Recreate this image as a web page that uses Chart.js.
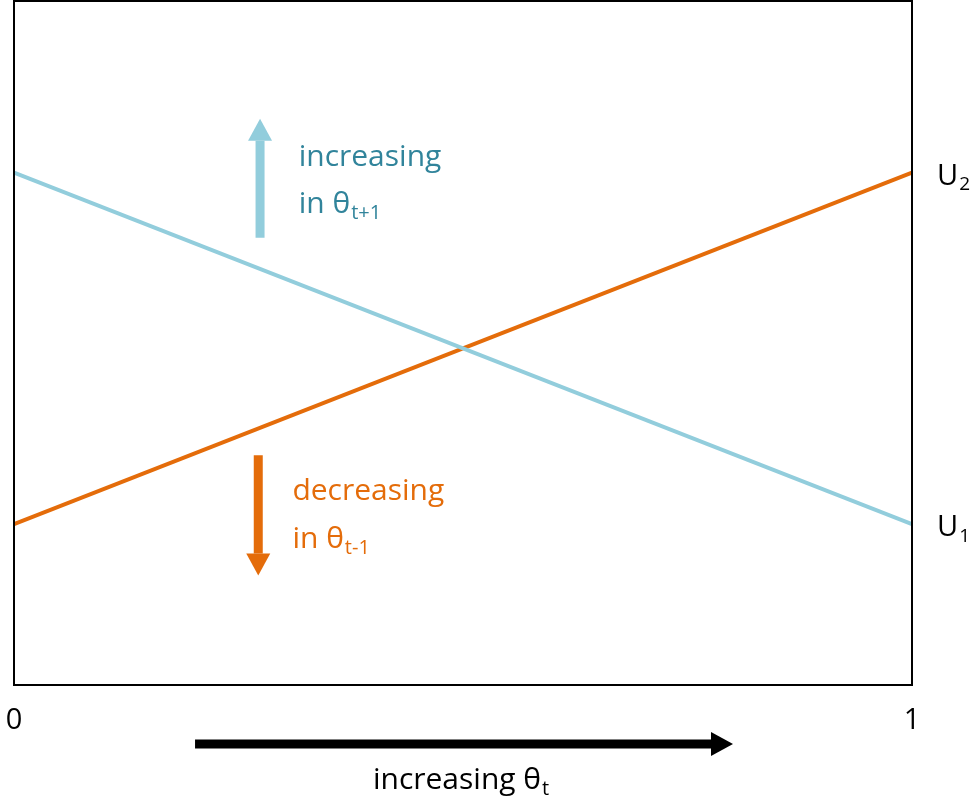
<!DOCTYPE html>
<html>
<head>
<meta charset="utf-8">
<script src="https://cdn.jsdelivr.net/npm/chart.js@4/dist/chart.umd.min.js"></script>
<style>
  html, body { margin: 0; padding: 0; background: #fff; }
  #wrap { width: 975px; height: 803px; position: relative; }
</style>
</head>
<body>
<div id="wrap"><canvas id="c"></canvas></div>
<script>
// ——— DATA ———
const xTicks = [0, 1];
const tickLabels = ['0', '1'];
const blueLine = [{ x: 0, y: 0.749 }, { x: 1, y: 0.235 }];   // U1 (falls)
const orangeLine = [{ x: 0, y: 0.235 }, { x: 1, y: 0.749 }]; // U2 (rises)
const lineLabels = [{ text: 'U', sub: '2', y: 0.749 }, { text: 'U', sub: '1', y: 0.235 }];

const BLUE = '#92CDDC';
const BLUE_TXT = '#31849B';
const ORANGE = '#E46C0A';
const FONT = '"Open Sans", "Noto Sans", sans-serif';

// text with subscript, left-aligned at x, baseline y
function subText(ctx, x, y, main, sub, size, color) {
    ctx.fillStyle = color;
    ctx.textBaseline = 'alphabetic';
    ctx.textAlign = 'left';
    ctx.font = `${size}px ${FONT}`;
    ctx.fillText(main, x, y);
    const w = ctx.measureText(main).width;
    ctx.font = `${Math.round(size * 0.65)}px ${FONT}`;
    ctx.fillText(sub, x + w + 1, y + size * 0.2);
}

function arrow(ctx, x1, y1, x2, y2, width, head, headLen, color) {
    const ang = Math.atan2(y2 - y1, x2 - x1);
    const bx = x2 - Math.cos(ang) * headLen, by = y2 - Math.sin(ang) * headLen;
    ctx.strokeStyle = color;
    ctx.fillStyle = color;
    ctx.lineWidth = width;
    ctx.lineCap = 'butt';
    ctx.beginPath(); ctx.moveTo(x1, y1); ctx.lineTo(bx, by); ctx.stroke();
    const nx = -Math.sin(ang), ny = Math.cos(ang);
    ctx.beginPath();
    ctx.moveTo(x2, y2);
    ctx.lineTo(bx + nx * head, by + ny * head);
    ctx.lineTo(bx - nx * head, by - ny * head);
    ctx.closePath(); ctx.fill();
}

const decor = {
    id: 'decor',
    afterDraw(chart) {
        const { ctx, chartArea: a, scales: { x, y } } = chart;
        ctx.save();
        // frame
        ctx.strokeStyle = '#000';
        ctx.lineWidth = 2;
        ctx.strokeRect(a.left, a.top, a.right - a.left, a.bottom - a.top);

        // tick labels
        ctx.fillStyle = '#000';
        ctx.font = `29px ${FONT}`;
        ctx.textAlign = 'center';
        ctx.textBaseline = 'middle';
        xTicks.forEach((v, i) => ctx.fillText(tickLabels[i], x.getPixelForValue(v), a.bottom + 36));

        // line end labels
        lineLabels.forEach(l => subText(ctx, a.right + 25, y.getPixelForValue(l.y) + 12, l.text, l.sub, 29, '#000'));

        // up arrow + text
        const ax = x.getPixelForValue(0.274);
        arrow(ctx, ax, y.getPixelForValue(0.654), ax, y.getPixelForValue(0.828), 9, 12, 22, BLUE);
        ctx.font = `30px ${FONT}`;
        ctx.fillStyle = BLUE_TXT;
        ctx.textAlign = 'left';
        ctx.textBaseline = 'alphabetic';
        const tx = x.getPixelForValue(0.317);
        ctx.fillText('increasing', tx, y.getPixelForValue(0.759));
        subText(ctx, tx, y.getPixelForValue(0.69), 'in θ', 't+1', 30, BLUE_TXT);

        // down arrow + text
        const bx = x.getPixelForValue(0.272);
        arrow(ctx, bx, y.getPixelForValue(0.336), bx, y.getPixelForValue(0.16), 9, 12, 22, ORANGE);
        ctx.font = `30px ${FONT}`;
        ctx.fillStyle = ORANGE;
        const ox = x.getPixelForValue(0.31);
        ctx.fillText('decreasing', ox, y.getPixelForValue(0.271));
        subText(ctx, ox, y.getPixelForValue(0.2), 'in θ', 't-1', 30, ORANGE);

        // bottom axis arrow
        arrow(ctx, x.getPixelForValue(0.2016), a.bottom + 59, x.getPixelForValue(0.8007), a.bottom + 59, 9, 12, 22, '#000');
        ctx.font = `30px ${FONT}`;
        const cap = 'increasing θ';
        const cw = ctx.measureText(cap).width;
        const cx = x.getPixelForValue(0.5) - cw / 2 - 6;
        subText(ctx, cx, a.bottom + 104, cap, 't', 30, '#000');
        ctx.restore();
    }
};

new Chart(document.getElementById('c'), {
    type: 'line',
    data: {
        datasets: [
            { data: blueLine, borderColor: BLUE, borderWidth: 4, pointRadius: 0, tension: 0 },
            { data: orangeLine, borderColor: ORANGE, borderWidth: 4, pointRadius: 0, tension: 0 }
        ]
    },
    options: {
        responsive: true,
        maintainAspectRatio: false,
        animation: false,
        layout: { padding: { left: 14, right: 63, top: 1, bottom: 118 } },
        plugins: { legend: { display: false }, tooltip: { enabled: false } },
        scales: {
            x: { type: 'linear', min: 0, max: 1, display: false },
            y: { type: 'linear', min: 0, max: 1, display: false }
        }
    },
    plugins: [decor]
});
</script>
</body>
</html>
